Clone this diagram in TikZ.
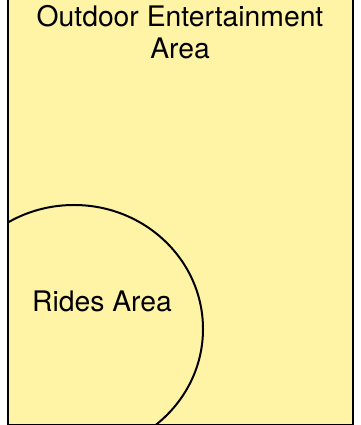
\documentclass[tikz,border=0pt]{standalone}
\usepackage{fontspec}
\setmainfont{TeX Gyre Heros}
\definecolor{area}{HTML}{FFF4A6}
\tikzset{label text/.style={inner sep=0pt, font=\fontsize{28.3}{32}\selectfont}}

\begin{document}
\begin{tikzpicture}[x=1pt, y=1pt]
              \useasboundingbox (0,0) rectangle (360,425);

              % Draw the outdoor area (top edge runs off the page)
              \begin{scope}
                \clip (0,0) rectangle (360,425);
                \draw[line width=2pt, fill=area] (8,0) rectangle (353,440);
              \end{scope}

              % Rides area, cut by the left and bottom edges
              \begin{scope}
                \clip (8,0) rectangle (353,425);
                \draw[line width=2pt] (74,96) ellipse (129 and 124);
              \end{scope}

              % Labels
              \node[label text, anchor=north, align=center] (outdoor) at (180,419.5) {Outdoor Entertainment\\Area};
              \node[label text, anchor=base] (rides) at (102,113) {Rides Area};
            \end{tikzpicture}
\end{document}
